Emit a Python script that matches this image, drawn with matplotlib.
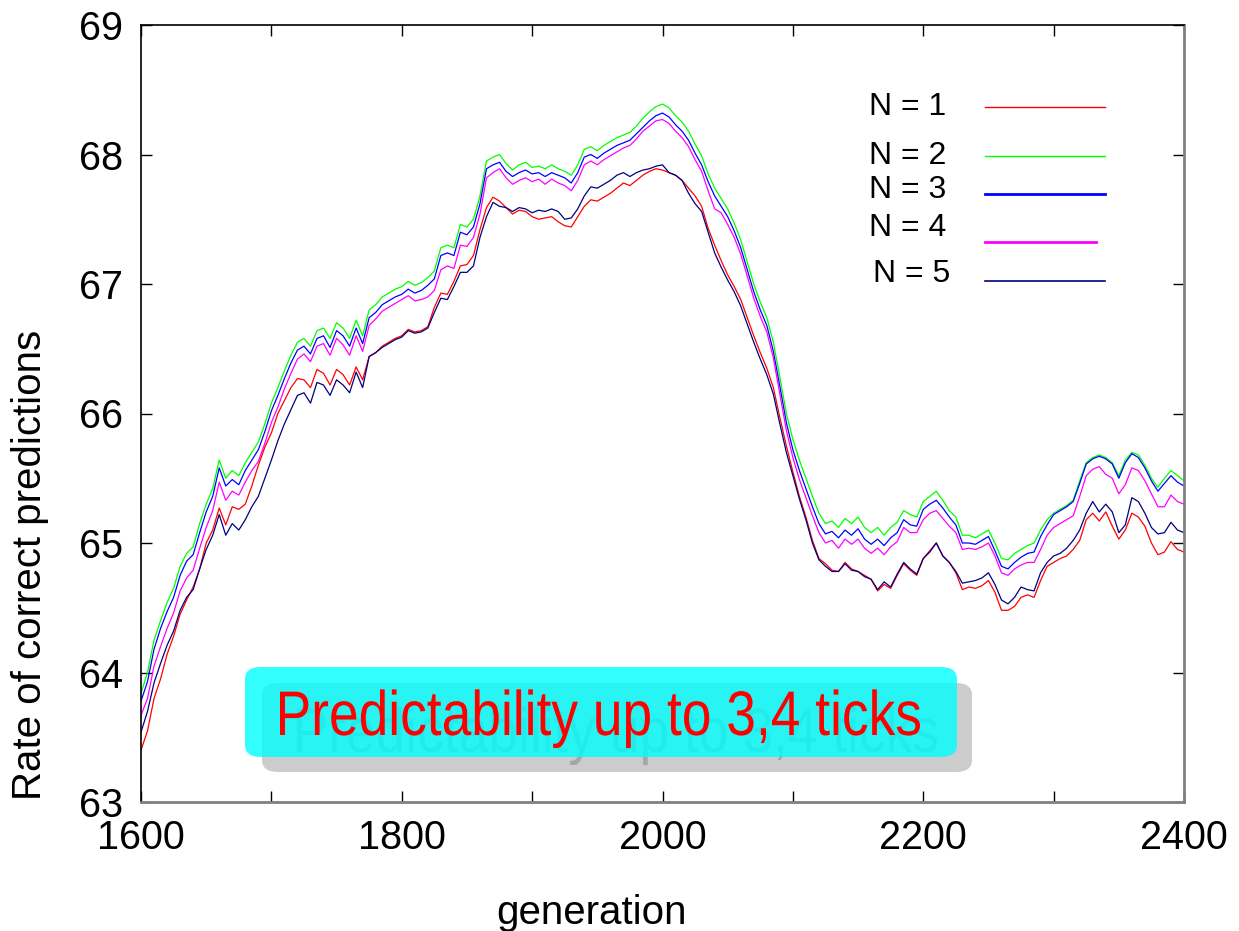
import numpy as np
import matplotlib
matplotlib.use("Agg")
import matplotlib.pyplot as plt
from matplotlib.patches import FancyBboxPatch, PathPatch
from matplotlib.textpath import TextPath
from matplotlib.font_manager import FontProperties
from matplotlib.transforms import Affine2D, IdentityTransform
from matplotlib.ticker import MultipleLocator

plt.rcParams['font.family'] = ['Liberation Sans', 'DejaVu Sans']

# generation grid, every 5 generations
generation = np.arange(1600, 2401, 5)

n1 = [
    63.40, 63.55, 63.80, 63.95, 64.14, 64.28, 64.45, 64.56, 64.66, 64.80,
    65.00, 65.10, 65.27, 65.14, 65.28, 65.26, 65.30, 65.44, 65.60, 65.74,
    65.85, 66.00, 66.10, 66.20, 66.27, 66.26, 66.20, 66.34, 66.31, 66.22,
    66.34, 66.30, 66.22, 66.36, 66.26, 66.44, 66.47, 66.52, 66.55, 66.58,
    66.60, 66.65, 66.63, 66.64, 66.67, 66.82, 66.93, 66.92, 67.02, 67.14,
    67.15, 67.22, 67.42, 67.59, 67.67, 67.64, 67.59, 67.54, 67.57, 67.56,
    67.52, 67.50, 67.51, 67.52, 67.48, 67.45, 67.44, 67.52, 67.60, 67.65,
    67.64, 67.67, 67.70, 67.74, 67.78, 67.76, 67.80, 67.84, 67.87, 67.89,
    67.88, 67.86, 67.84, 67.80, 67.74, 67.68, 67.60, 67.43, 67.30, 67.18,
    67.07, 66.98, 66.88, 66.74, 66.60, 66.47, 66.35, 66.20, 65.97, 65.75,
    65.55, 65.36, 65.20, 65.02, 64.88, 64.84, 64.79, 64.78, 64.85, 64.80,
    64.78, 64.75, 64.72, 64.63, 64.68, 64.65, 64.75, 64.84, 64.79, 64.75,
    64.88, 64.94, 65.00, 64.90, 64.85, 64.77, 64.64, 64.66, 64.65, 64.67,
    64.71, 64.62, 64.48, 64.48, 64.51, 64.58, 64.60, 64.58, 64.71, 64.82,
    64.85, 64.88, 64.90, 64.95, 65.02, 65.18, 65.23, 65.17, 65.24, 65.13,
    65.03, 65.10, 65.23, 65.20, 65.13, 65.00, 64.91, 64.93, 65.01, 64.95,
    64.93,
]

n2 = [
    63.84, 64.00, 64.25, 64.40, 64.54, 64.65, 64.82, 64.92, 64.97, 65.15,
    65.30, 65.42, 65.64, 65.50, 65.56, 65.52, 65.62, 65.70, 65.78, 65.92,
    66.08, 66.20, 66.33, 66.45, 66.55, 66.58, 66.52, 66.64, 66.66, 66.58,
    66.70, 66.66, 66.58, 66.72, 66.60, 66.80, 66.84, 66.90, 66.93, 66.96,
    66.98, 67.02, 66.99, 67.01, 67.05, 67.10, 67.28, 67.30, 67.28, 67.46,
    67.44, 67.50, 67.68, 67.95, 67.98, 68.00, 67.93, 67.88, 67.92, 67.94,
    67.90, 67.91, 67.89, 67.92, 67.89, 67.87, 67.84, 67.92, 68.04, 68.06,
    68.03, 68.07, 68.10, 68.13, 68.15, 68.17, 68.22, 68.28, 68.33, 68.37,
    68.39, 68.36, 68.30, 68.25, 68.18, 68.08, 67.99, 67.85, 67.74, 67.66,
    67.58, 67.47, 67.34, 67.17, 67.00, 66.86, 66.74, 66.55, 66.28, 66.00,
    65.80, 65.64, 65.50, 65.36, 65.23, 65.15, 65.17, 65.12, 65.19, 65.15,
    65.20, 65.12, 65.08, 65.12, 65.06, 65.12, 65.16, 65.25, 65.22, 65.20,
    65.32, 65.36, 65.40, 65.33, 65.25, 65.20, 65.06, 65.06, 65.04, 65.07,
    65.10, 65.00, 64.88, 64.87, 64.92, 64.95, 64.98, 65.00, 65.10, 65.18,
    65.23, 65.26, 65.29, 65.33, 65.48, 65.62, 65.66, 65.68, 65.66, 65.62,
    65.52, 65.64, 65.70, 65.68, 65.60, 65.50, 65.43, 65.50, 65.56, 65.52,
    65.48,
]

n3 = [
    63.78, 63.93, 64.18, 64.34, 64.47, 64.58, 64.75, 64.86, 64.91, 65.08,
    65.24, 65.36, 65.58, 65.44, 65.49, 65.45, 65.56, 65.64, 65.72, 65.86,
    66.02, 66.14, 66.27, 66.39, 66.49, 66.52, 66.46, 66.58, 66.60, 66.51,
    66.64, 66.60, 66.52, 66.66, 66.54, 66.74, 66.78, 66.84, 66.87, 66.90,
    66.92, 66.96, 66.93, 66.95, 66.99, 67.04, 67.22, 67.24, 67.22, 67.40,
    67.38, 67.44, 67.62, 67.89, 67.92, 67.94, 67.87, 67.83, 67.86, 67.88,
    67.85, 67.86, 67.83, 67.86, 67.84, 67.82, 67.78, 67.86, 67.98, 68.00,
    67.97, 68.01, 68.04, 68.07, 68.09, 68.11, 68.16, 68.21, 68.26, 68.30,
    68.32, 68.29, 68.23, 68.18, 68.11, 68.01, 67.92, 67.79, 67.68, 67.60,
    67.52, 67.41, 67.28, 67.11, 66.94, 66.80, 66.68, 66.48, 66.21, 65.93,
    65.72, 65.56, 65.42, 65.28, 65.15, 65.07, 65.09, 65.04, 65.10, 65.06,
    65.11, 65.03, 64.99, 65.03, 64.98, 65.04, 65.08, 65.18, 65.14, 65.13,
    65.26, 65.30, 65.33, 65.27, 65.20, 65.14, 65.00, 65.00, 64.99, 65.02,
    65.05, 64.94, 64.82, 64.80, 64.85, 64.89, 64.92, 64.93, 65.05, 65.14,
    65.22, 65.25, 65.28, 65.32, 65.46, 65.61, 65.65, 65.67, 65.65, 65.61,
    65.50, 65.62, 65.69, 65.66, 65.58, 65.48, 65.40, 65.46, 65.52, 65.47,
    65.44,
]

n4 = [
    63.67, 63.80, 64.05, 64.20, 64.34, 64.46, 64.63, 64.73, 64.79, 64.96,
    65.12, 65.25, 65.47, 65.33, 65.40, 65.37, 65.47, 65.56, 65.63, 65.77,
    65.93, 66.05, 66.19, 66.31, 66.42, 66.46, 66.40, 66.52, 66.54, 66.45,
    66.58, 66.53, 66.45, 66.60, 66.48, 66.68, 66.73, 66.79, 66.82, 66.85,
    66.88, 66.91, 66.87, 66.88, 66.90, 66.95, 67.11, 67.14, 67.12, 67.30,
    67.29, 67.36, 67.54, 67.82, 67.86, 67.89, 67.82, 67.77, 67.80, 67.82,
    67.79, 67.81, 67.77, 67.81, 67.78, 67.76, 67.72, 67.80, 67.92, 67.95,
    67.92, 67.96, 67.99, 68.02, 68.05, 68.07, 68.12, 68.18, 68.22, 68.26,
    68.27, 68.24, 68.18, 68.13, 68.06, 67.96, 67.87, 67.72, 67.58, 67.55,
    67.46, 67.36, 67.23, 67.06, 66.89, 66.75, 66.63, 66.43, 66.15, 65.87,
    65.66, 65.49, 65.35, 65.21, 65.08, 65.00, 65.02, 64.96, 65.03, 64.99,
    65.03, 64.96, 64.92, 64.96, 64.91, 64.97, 65.01, 65.12, 65.08, 65.08,
    65.18, 65.23, 65.25, 65.19, 65.13, 65.08, 64.95, 64.96, 64.95, 64.97,
    65.00, 64.90, 64.77, 64.75, 64.80, 64.83, 64.85, 64.85, 64.95, 65.06,
    65.12, 65.15, 65.18, 65.21, 65.36, 65.52, 65.57, 65.59, 65.53, 65.50,
    65.38, 65.45, 65.58, 65.56, 65.48, 65.38, 65.28, 65.28, 65.37, 65.32,
    65.30,
]

n5 = [
    63.54, 63.70, 63.92, 64.07, 64.21, 64.32, 64.48, 64.58, 64.64, 64.80,
    64.95, 65.06, 65.22, 65.06, 65.15, 65.10, 65.18, 65.28, 65.36, 65.50,
    65.64, 65.79, 65.92, 66.03, 66.14, 66.16, 66.08, 66.24, 66.22, 66.14,
    66.26, 66.22, 66.16, 66.32, 66.20, 66.44, 66.47, 66.51, 66.54, 66.57,
    66.59, 66.64, 66.62, 66.63, 66.66, 66.78, 66.89, 66.88, 66.98, 67.09,
    67.09, 67.14, 67.36, 67.52, 67.63, 67.60, 67.59, 67.56, 67.59, 67.58,
    67.55, 67.57, 67.56, 67.58, 67.56, 67.50, 67.51, 67.58, 67.68, 67.75,
    67.74, 67.77, 67.80, 67.84, 67.86, 67.83, 67.86, 67.88, 67.89, 67.91,
    67.92, 67.86, 67.84, 67.80, 67.70, 67.62, 67.56, 67.40, 67.24, 67.13,
    67.03, 66.94, 66.83, 66.69, 66.55, 66.42, 66.30, 66.15, 65.92, 65.70,
    65.52, 65.34, 65.18, 65.00, 64.87, 64.82, 64.78, 64.78, 64.84, 64.79,
    64.78, 64.74, 64.72, 64.64, 64.70, 64.66, 64.76, 64.85, 64.80, 64.76,
    64.88, 64.93, 65.00, 64.90, 64.85, 64.78, 64.69, 64.70, 64.71, 64.73,
    64.77, 64.68, 64.56, 64.53, 64.58, 64.66, 64.64, 64.63, 64.77, 64.85,
    64.90, 64.92, 64.96, 65.02, 65.10, 65.23, 65.32, 65.24, 65.30, 65.24,
    65.08, 65.14, 65.35, 65.32, 65.23, 65.12, 65.07, 65.08, 65.16, 65.10,
    65.08,
]

series = [n1, n2, n3, n4, n5]
labels = ["N = 1", "N = 2", "N = 3", "N = 4", "N = 5"]
colors = ["#ff0000", "#00ff00", "#0000ff", "#ff00ff", "#000080"]
draw_order = [1, 2, 3, 0, 4]
note = "Predictability up to 3,4 ticks"

W, H = 1239, 931
fig = plt.figure(figsize=(W / 100, H / 100), dpi=100)
ax = fig.add_axes([141 / W, 1 - 802 / H, 1043 / W, 777 / H])

for i in draw_order:
    ax.plot(generation, series[i], color=colors[i], lw=0.9)

ax.set_xlim(1600, 2400)
ax.set_ylim(63, 69)
ax.xaxis.set_major_locator(MultipleLocator(200))
ax.xaxis.set_minor_locator(MultipleLocator(100))
ax.yaxis.set_major_locator(MultipleLocator(1))
ax.tick_params(which='both', direction='in', top=True, right=True,
               length=8, width=1, labelsize=28.5)
ax.tick_params(axis='x', pad=12)
ax.tick_params(axis='y', pad=13)
for side in ['left', 'top']:
    ax.spines[side].set_linewidth(1.2)
for side in ['right', 'bottom']:
    ax.spines[side].set_color('#808080')
    ax.spines[side].set_linewidth(2)

fig.text(30 / W, 1 - 565 / H, "Rate of correct predictions",
         rotation=90, ha='center', va='center', fontsize=29)
fig.text(591 / W, 1 - 924 / H, "generation", ha='center',
         va='baseline', fontsize=29)


# hand-placed legend, positions in image pixels
def px(x, y):
    return ((x - 141) / 1043, (802 - y) / 777)


legend_rows = [(869, 107, 107, 1105, 1.0), (869, 156, 156, 1105, 1.0),
               (869, 190, 194, 1105, 2.0), (869, 228, 242, 1096, 2.0),
               (873, 274, 281, 1105, 1.2)]
for k, (tx, ty, ly, lx2, lw) in enumerate(legend_rows):
    x0, y0 = px(tx, ty)
    ax.text(x0, y0, labels[k], transform=ax.transAxes, fontsize=23,
            ha='left', va='center')
    a, b = px(985, ly)
    c, _ = px(lx2, ly)
    ax.plot([a, c], [b, b], transform=ax.transAxes, color=colors[k], lw=lw)


# annotation: condensed text drawn as a path, in display pixels
def note_patch(left, baseline, color, z):
    tp = TextPath((0, 0), note, size=63,
                  prop=FontProperties(family='Liberation Sans'))
    ext = tp.get_extents()
    sx = 640 / ext.width
    tr = Affine2D().translate(-ext.x0, 0).scale(sx, 1).translate(left, H - baseline)
    return PathPatch(tr.transform_path(tp), transform=IdentityTransform(),
                     fc=color, ec='none', zorder=z)


shadow = FancyBboxPatch((262 / W, 1 - 772 / H), 710 / W, 89 / H,
                        boxstyle="round,pad=0,rounding_size=0.013",
                        transform=fig.transFigure, fc='#cccccc', ec='none',
                        zorder=1)
fig.patches.append(shadow)
fig.patches.append(note_patch(297, 752, '#a6a6a6', 2))
box = FancyBboxPatch((245 / W, 1 - 757 / H), 712 / W, 90 / H,
                     boxstyle="round,pad=0,rounding_size=0.013",
                     transform=fig.transFigure, fc='#00ffff', ec='none',
                     alpha=0.8, zorder=3)
fig.patches.append(box)
fig.patches.append(note_patch(280, 735, '#ff0000', 4))

fig.savefig("out.png", dpi=100)
